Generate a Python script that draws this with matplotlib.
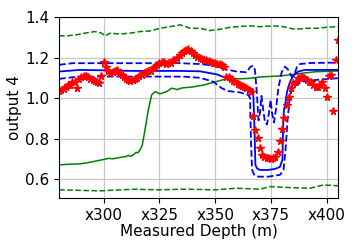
import numpy as np
import matplotlib
matplotlib.use("Agg")
import matplotlib.pyplot as plt
from matplotlib.ticker import FuncFormatter

# measured values (red stars), one per metre from 280 to 405
obs_depth = np.arange(280, 406, 1)
obs_vals = [
    1.037, 1.040, 1.045, 1.053, 1.063, 1.067, 1.077, 1.081, 1.049, 1.095,
    1.102, 1.109, 1.109, 1.106, 1.095, 1.087, 1.086, 1.080, 1.073, 1.109,
    1.176, 1.154, 1.134, 1.123, 1.129, 1.136, 1.139, 1.122, 1.112, 1.104,
    1.095, 1.087, 1.085, 1.087, 1.092, 1.100, 1.107, 1.114, 1.122, 1.127,
    1.132, 1.136, 1.149, 1.155, 1.164, 1.173, 1.176, 1.180, 1.168, 1.171,
    1.173, 1.186, 1.188, 1.200, 1.210, 1.220, 1.233, 1.237, 1.241, 1.233,
    1.223, 1.212, 1.203, 1.198, 1.193, 1.190, 1.186, 1.182, 1.178, 1.175,
    1.172, 1.169, 1.167, 1.161, 1.154, 1.106, 1.106, 1.092, 1.085, 1.077,
    1.070, 1.065, 1.059, 1.053, 1.049, 1.040, 1.028, 0.912, 0.843, 0.804,
    0.755, 0.720, 0.710, 0.705, 0.703, 0.700, 0.703, 0.710, 0.736, 0.789,
    0.848, 0.902, 0.967, 1.006, 1.049, 1.075, 1.081, 1.100, 1.100, 1.102,
    1.097, 1.090, 1.081, 1.077, 1.065, 1.054, 1.055, 1.065, 1.081, 1.049,
    1.006, 1.109, 1.114, 0.937, 1.188, 1.284,
]

# prediction mean (blue solid)
mean_depth = [280, 289.4, 313.2, 334.2, 343.2, 350.7, 355.1, 360.3, 364.1, 367,
              367.6, 368, 368.7, 370, 373.6, 376.8, 379, 380.1, 380.5, 380.8,
              381.3, 382.2, 383.5, 385, 387.2, 390.2, 405]
mean_vals = [1.131, 1.139, 1.134, 1.134, 1.132, 1.117, 1.098, 1.070, 1.054, 1.043,
             0.843, 0.671, 0.654, 0.646, 0.646, 0.651, 0.661, 0.696, 0.893, 0.942,
             0.966, 1.031, 1.080, 1.111, 1.131, 1.139, 1.139]

# upper / lower bounds (blue dashed)
up_depth = [280, 283, 286, 298, 316, 334, 343, 349, 353.5, 359.6, 364.1, 365.6,
            366.9, 367.8, 368.7, 369.4, 370.1, 370.7, 371.4, 372.3, 373.2, 374.1,
            374.8, 375.4, 376.3, 377.2, 378.3, 379.8, 381.3, 382.7, 384.3, 385.3,
            386.6, 388, 392.5, 405]
up_vals = [1.164, 1.168, 1.172, 1.172, 1.172, 1.172, 1.168, 1.161, 1.144, 1.131,
           1.127, 1.153, 1.160, 1.139, 1.016, 0.890, 0.930, 1.011, 0.952, 0.880,
           0.870, 0.930, 0.991, 0.930, 0.880, 0.942, 1.050, 1.129, 1.155, 1.139,
           1.106, 1.109, 1.154, 1.168, 1.173, 1.175]

lo_depth = [280, 286.4, 298.4, 320.8, 335.7, 343.2, 349.1, 352.9, 355.7, 361.1,
            364.7, 365.6, 366, 366.5, 367.6, 369.3, 373.8, 379, 380.6, 381.5,
            382.4, 383.3, 384.3, 388.7, 395.5, 405]
lo_vals = [1.095, 1.103, 1.106, 1.106, 1.106, 1.100, 1.081, 1.049, 1.035, 1.028,
           1.016, 1.001, 0.794, 0.646, 0.619, 0.613, 0.613, 0.622, 0.646, 0.745,
           0.893, 0.991, 1.050, 1.081, 1.090, 1.098]

# green prior curves
prior_depth = [280, 284, 289.4, 293, 300.6, 302, 304, 308.1, 310, 311, 312, 313.3,
               314.5, 315.3, 316.3, 317.3, 318.5, 320, 321.5, 323, 325.2, 328.2,
               330.5, 333, 335, 340, 345, 350, 355, 360, 365, 370, 375, 380, 385,
               390, 395, 400, 405]
prior_vals = [0.671, 0.674, 0.676, 0.682, 0.699, 0.703, 0.701, 0.709, 0.712, 0.718,
              0.713, 0.720, 0.733, 0.730, 0.745, 0.769, 0.843, 0.942, 1.016, 1.032,
              1.021, 1.032, 1.049, 1.042, 1.050, 1.055, 1.065, 1.080, 1.095, 1.095,
              1.097, 1.104, 1.107, 1.110, 1.117, 1.124, 1.130, 1.132, 1.134]

pup_depth = [280, 282.7, 287.2, 291.6, 296.1, 299.1, 300.6, 302.8, 307.3, 311.8,
             316.3, 320.8, 325.3, 329.7, 334.2, 335.7, 338.7, 343.2, 347.7, 352.1,
             356.6, 361.1, 365.6, 370.1, 376, 380.5, 385.7, 391, 395.5, 399.9, 405]
pup_vals = [1.308, 1.306, 1.311, 1.320, 1.328, 1.320, 1.306, 1.320, 1.316, 1.320,
            1.328, 1.331, 1.344, 1.352, 1.361, 1.356, 1.344, 1.344, 1.333, 1.339,
            1.349, 1.353, 1.356, 1.352, 1.356, 1.352, 1.339, 1.344, 1.344, 1.349,
            1.352]

plo_depth = [280, 290.9, 298.4, 313.3, 325.2, 334.2, 338.7, 349.9, 359.6, 370.1,
             374.5, 383.5, 392.5, 398.4, 405]
plo_vals = [0.548, 0.545, 0.543, 0.551, 0.548, 0.551, 0.551, 0.548, 0.556, 0.551,
            0.564, 0.559, 0.556, 0.572, 0.568]

fig = plt.figure(figsize=(3.58, 2.49), dpi=100)
ax = fig.add_axes([0.165, 0.205, 0.779, 0.727])

ax.plot(prior_depth, prior_vals, color='g', lw=1.1)
ax.plot(pup_depth, pup_vals, color='g', ls='--', lw=1.1)
ax.plot(plo_depth, plo_vals, color='g', ls='--', lw=1.1)
ax.plot(mean_depth, mean_vals, color='b', lw=1.3)
ax.plot(up_depth, up_vals, color='b', ls='--', lw=1.3)
ax.plot(lo_depth, lo_vals, color='b', ls='--', lw=1.3)
ax.plot(obs_depth, obs_vals, 'r*', ms=5.5, ls='none')

ax.set_xlim(280, 405)
ax.set_ylim(0.508, 1.4)
ax.set_xticks([300, 325, 350, 375, 400])
ax.set_yticks([0.6, 0.8, 1.0, 1.2, 1.4])
ax.xaxis.set_major_formatter(FuncFormatter(lambda v, p: f"x{v:.0f}"))
ax.tick_params(labelsize=11)
ax.grid(True, color='#c8c8c8', lw=0.9)
ax.set_axisbelow(True)
ax.set_xlabel("Measured Depth (m)", fontsize=11, labelpad=1)
ax.set_ylabel("output 4", fontsize=11, labelpad=2)

fig.savefig("out.png", dpi=100)
